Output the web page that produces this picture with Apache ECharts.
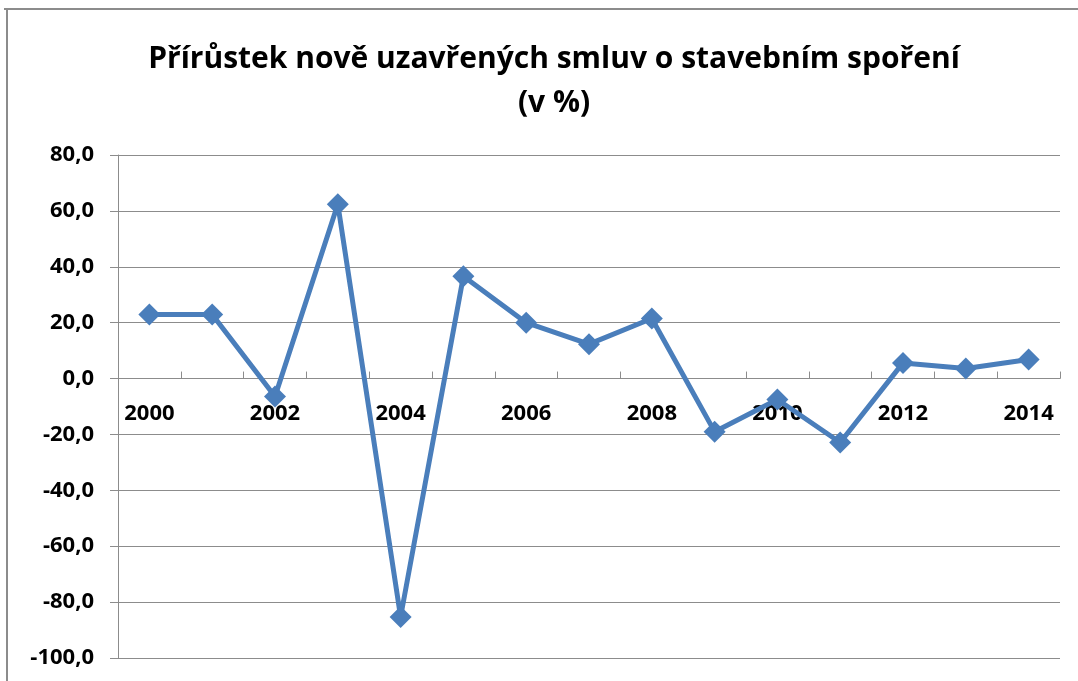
<!DOCTYPE html>
<html>
<head>
<meta charset="utf-8">
<script src="https://cdn.jsdelivr.net/npm/echarts@6/dist/echarts.min.js"></script>
<style>
  html, body { margin: 0; padding: 0; background: #fff; }
  #chart { width: 1078px; height: 681px; }
</style>
</head>
<body>
<div id="chart"></div>
<script>
var years = ['2000', '2001', '2002', '2003', '2004', '2005', '2006', '2007',
             '2008', '2009', '2010', '2011', '2012', '2013', '2014'];
var growth = [22.9, 22.9, -6.4, 62.4, -85.3, 36.6, 20.0, 12.3,
              21.5, -19.0, -7.5, -22.9, 5.6, 3.6, 6.8];

var yMin = -100, yMax = 80;
var plotTop = 155, plotBottom = 23, plotH = 681 - plotTop - plotBottom;
// move the category axis up to the zero line
var zeroOffset = -plotH * (0 - yMin) / (yMax - yMin);

var chart = echarts.init(document.getElementById('chart'));

var option = {
  backgroundColor: '#ffffff',
  animation: false,
  title: {
    text: 'Přírůstek nově uzavřených smluv o stavebním spoření\n(v %)',
    left: 549,
    textAlign: 'center',
    top: 32,
    textStyle: {
      fontFamily: 'Open Sans',
      fontWeight: 'bold',
      fontSize: 30,
      lineHeight: 44,
      color: '#000'
    }
  },
  graphic: [
    { type: 'line', shape: { x1: 4, y1: 9, x2: 1078, y2: 9 },
      style: { stroke: '#8c8c8c', lineWidth: 2 } },
    { type: 'line', shape: { x1: 7, y1: 9, x2: 7, y2: 681 },
      style: { stroke: '#8c8c8c', lineWidth: 2 } }
  ],
  grid: { left: 118, right: 18, top: plotTop, bottom: plotBottom,
          containLabel: false, outerBoundsMode: 'none' },
  xAxis: {
    type: 'category',
    data: years,
    boundaryGap: true,
    position: 'bottom',
    offset: zeroOffset,
    axisLine: { onZero: false, lineStyle: { color: '#8c8c8c', width: 1 } },
    axisTick: { show: true, inside: true, interval: 0, length: 7, lineStyle: { color: '#8c8c8c' } },
    axisLabel: {
      interval: 1,
      margin: 24,
      color: '#000',
      fontFamily: 'Open Sans',
      fontWeight: 'bold',
      fontSize: 22
    },
    splitLine: { show: false }
  },
  yAxis: {
    type: 'value',
    min: yMin,
    max: yMax,
    interval: 20,
    axisLine: { show: true, lineStyle: { color: '#8c8c8c', width: 1 } },
    axisTick: { show: true, length: 8, lineStyle: { color: '#8c8c8c' } },
    axisLabel: {
      margin: 24,
      color: '#000',
      fontFamily: 'Open Sans',
      fontWeight: 'bold',
      fontSize: 22,
      formatter: function (v) { return v.toFixed(1).replace('.', ','); }
    },
    splitLine: { show: true, lineStyle: { color: '#8c8c8c', width: 1 } }
  },
  series: [{
    type: 'line',
    data: growth,
    symbol: 'diamond',
    symbolSize: 22,
    lineStyle: { color: '#4a7ebb', width: 5 },
    itemStyle: { color: '#4a7ebb' }
  }]
};

chart.setOption(option);
</script>
</body>
</html>
